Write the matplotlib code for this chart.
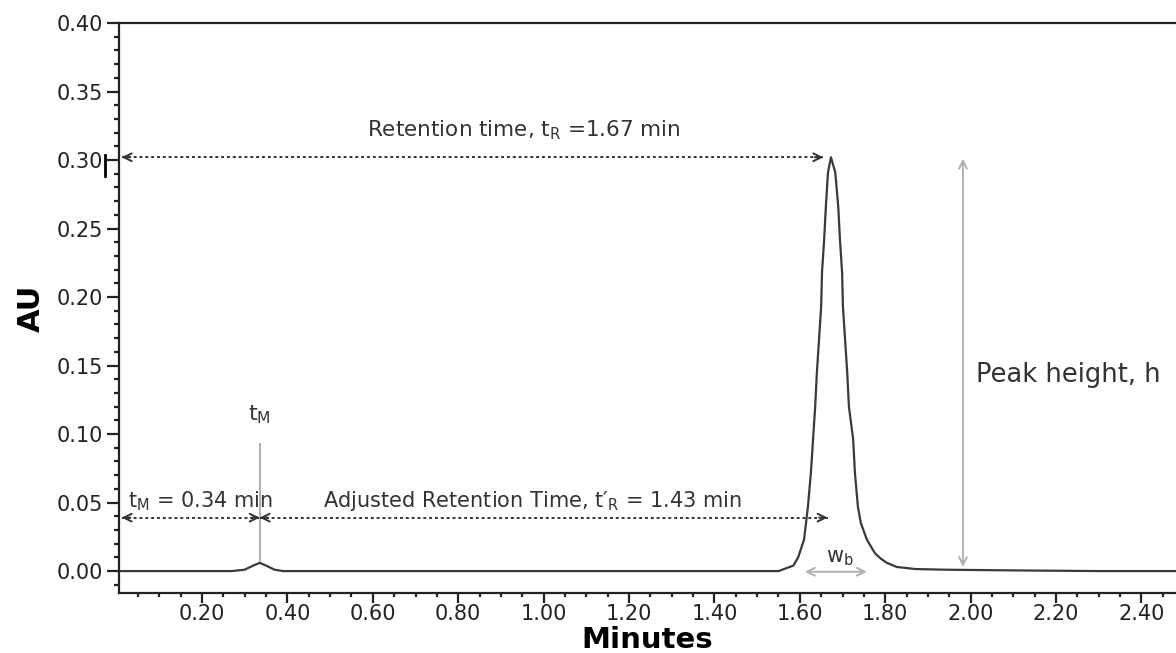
import matplotlib
matplotlib.use('Agg')
import matplotlib.pyplot as plt
from matplotlib.ticker import MultipleLocator, FormatStrFormatter

# chromatogram
minutes = [0.00, 0.27, 0.30, 0.32, 0.335, 0.35, 0.37, 0.39,
           1.55, 1.585, 1.596, 1.610, 1.619, 1.626, 1.631, 1.636, 1.640,
           1.645, 1.650, 1.652, 1.657, 1.661, 1.666, 1.673,
           1.683, 1.690, 1.694, 1.699, 1.701, 1.706, 1.711, 1.715, 1.725,
           1.729, 1.736, 1.743, 1.757, 1.776, 1.790, 1.804, 1.827, 1.870,
           1.940, 2.10, 2.30, 2.50]
au = [0.000, 0.000, 0.001, 0.004, 0.006, 0.004, 0.001, 0.000,
      0.000, 0.004, 0.010, 0.023, 0.047, 0.072, 0.096, 0.120, 0.145,
      0.169, 0.193, 0.218, 0.242, 0.266, 0.291, 0.302,
      0.291, 0.266, 0.242, 0.218, 0.193, 0.169, 0.145, 0.120, 0.096,
      0.072, 0.047, 0.035, 0.023, 0.013, 0.009, 0.006, 0.003, 0.0015,
      0.001, 0.0005, 0.000, 0.000]

# annotation values
t_start = 0.012
t_M = 0.335
t_R = 1.665
h_peak = 0.302
y_adj = 0.039
x_height = 1.982
wb_left, wb_right = 1.612, 1.757

label_R = 'Retention time, $\\mathregular{t_R}$ =1.67 min'
label_M = '$\\mathregular{t_M}$ = 0.34 min'
label_adj = 'Adjusted Retention Time, t\u2032$_\\mathregular{R}$ = 1.43 min'
label_h = 'Peak height, h'

INK = '#333333'


def dotted_arrow(ax, x0, x1, y):
    # dotted shaft, solid heads on both ends
    ax.plot([x0, x1], [y, y], color=INK, lw=1.4, ls=(0, (1.5, 1.5)))
    d = 0.02
    for tip, tail in ((x0, x0 + d), (x1, x1 - d)):
        ax.annotate('', xy=(tip, y), xytext=(tail, y),
                    arrowprops=dict(arrowstyle='->', color=INK, lw=1.4,
                                    mutation_scale=14, shrinkA=0, shrinkB=0))


def solid_arrow(ax, p0, p1):
    ax.annotate('', xy=p1, xytext=p0,
                arrowprops=dict(arrowstyle='<->', color='#b0b0b0', lw=1.4,
                                mutation_scale=14, shrinkA=0, shrinkB=0))


fig = plt.figure(figsize=(11.76, 6.53), dpi=100)
ax = fig.add_axes([119 / 1176, 1 - 593 / 653, 1 - 119 / 1176, (593 - 23) / 653])

ax.plot(minutes, au, color='#3a3a3a', lw=1.6)

ax.set_xlim(0.0056, 2.481)
ax.set_ylim(-0.016, 0.40)

ax.xaxis.set_major_locator(MultipleLocator(0.2))
ax.xaxis.set_minor_locator(MultipleLocator(0.05))
ax.yaxis.set_major_locator(MultipleLocator(0.05))
ax.yaxis.set_minor_locator(MultipleLocator(0.01))
ax.xaxis.set_major_formatter(FormatStrFormatter('%.2f'))
ax.yaxis.set_major_formatter(FormatStrFormatter('%.2f'))

for s in ax.spines.values():
    s.set_linewidth(1.6)
    s.set_color('#222222')
ax.spines['right'].set_visible(False)

ax.tick_params(axis='y', which='major', length=8.6, width=1.6, pad=3,
               labelsize=15, colors='#222222')
ax.tick_params(axis='y', which='minor', length=3.6, width=1.6, colors='#222222')
ax.tick_params(axis='x', which='major', length=7.2, width=1.6, pad=1,
               labelsize=15, colors='#222222')
ax.tick_params(axis='x', which='minor', length=2.9, width=1.6, colors='#222222')

ax.set_ylabel('AU', fontsize=22, fontweight='bold', labelpad=8)
ax.set_xlabel('Minutes', fontsize=21, fontweight='bold', labelpad=1)

# retention time
dotted_arrow(ax, t_start, t_R - 0.01, h_peak)
ax.text(0.587, 0.3175, label_R, fontsize=15.5, color=INK, va='baseline')
ax.plot([-0.027, -0.027], [0.288, 0.304], color='black', lw=2, clip_on=False)

# dead time
dotted_arrow(ax, t_start, t_M, y_adj)
ax.text(0.027, 0.0467, label_M, fontsize=15, color=INK, va='baseline')
ax.plot([t_M, t_M], [0.093, 0.007], color='#b0b0b0', lw=1.4)
ax.text(0.308, 0.110, '$\\mathregular{t_M}$', fontsize=16, color=INK,
        va='baseline')

# adjusted retention time
dotted_arrow(ax, t_M, t_R, y_adj)
ax.text(0.483, 0.0467, label_adj, fontsize=15, color=INK, va='baseline')

# peak height
solid_arrow(ax, (x_height, 0.003), (x_height, 0.301))
ax.text(2.013, 0.138, label_h, fontsize=18.5, color=INK, va='baseline')

# base width
solid_arrow(ax, (wb_left, -0.0005), (wb_right, -0.0005))
ax.text(1.661, 0.0066, '$\\mathregular{w_b}$', fontsize=15, color=INK,
        va='baseline')

fig.savefig('out.png', dpi=100)
